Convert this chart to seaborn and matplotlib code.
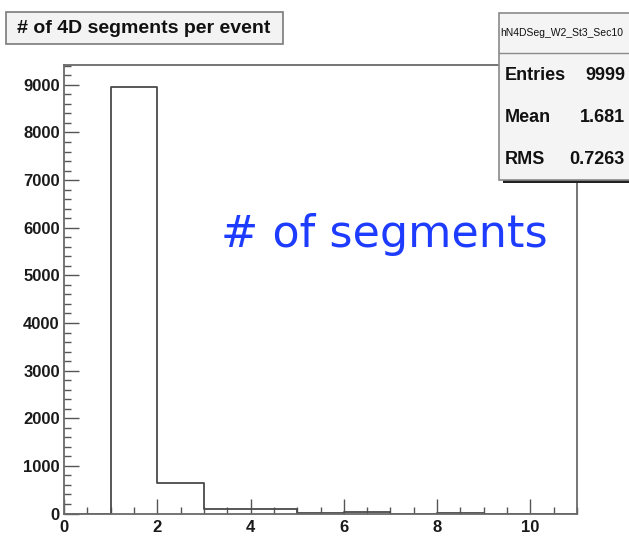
import numpy as np
import pandas as pd
import matplotlib
matplotlib.use("Agg")
import matplotlib.pyplot as plt
import seaborn as sns
from matplotlib.patches import Rectangle
from matplotlib.ticker import MultipleLocator

# ---- data ----
bin_edges = [0, 1, 2, 3, 4, 5, 6, 7, 8, 9, 10, 11]
bin_counts = [0, 8958, 634, 100, 85, 5, 38, 0, 10, 0, 0]
title_text = "# of 4D segments per event"
hist_name = "hN4DSeg_W2_St3_Sec10"
stat_labels = ["Entries", "Mean", "RMS"]
stat_values = ["9999", "1.681", "0.7263"]
annotation = "# of segments"
x_ticks = [0, 2, 4, 6, 8, 10]
y_ticks = [0, 1000, 2000, 3000, 4000, 5000, 6000, 7000, 8000, 9000]

sns.set_theme(style="white")
plt.rcParams['font.family'] = ['Liberation Sans Narrow', 'Liberation Sans', 'DejaVu Sans']

W, H = 629, 549
def fx(px):
    return px / W
def fy(py):
    return 1 - py / H

fig = plt.figure(figsize=(W / 100, H / 100), dpi=100)
fig.patch.set_facecolor("white")
ax = fig.add_axes([fx(64), fy(513.5), (577 - 64) / W, (513.5 - 65.5) / H])
ax.set_facecolor("white")

centers = [(a + b) / 2 for a, b in zip(bin_edges[:-1], bin_edges[1:])]
df = pd.DataFrame({"x": centers, "w": bin_counts})
sns.histplot(data=df, x="x", weights="w", bins=bin_edges, element="step",
             fill=False, color="#4a4a4a", linewidth=1.3, ax=ax)

ax.set_xlim(bin_edges[0], bin_edges[-1])
ax.set_ylim(0, 1.05 * max(bin_counts))
ax.set_xlabel("")
ax.set_ylabel("")
ax.set_xticks(x_ticks)
ax.set_xticklabels([str(t) for t in x_ticks])
ax.set_yticks(y_ticks)
ax.set_yticklabels([str(t) for t in y_ticks])
ax.xaxis.set_minor_locator(MultipleLocator(0.5))
ax.yaxis.set_minor_locator(MultipleLocator(200))

for sp in ax.spines.values():
    sp.set_color("#6a6a6a")
    sp.set_linewidth(1.3)
    sp.set_visible(True)

ax.tick_params(axis="both", which="major", direction="in", length=11, width=1.0,
               color="#555555", bottom=True, left=True, top=False, right=False)
ax.tick_params(axis="both", which="minor", direction="in", length=5, width=1.0,
               color="#555555", bottom=True, left=True, top=False, right=False)
ax.tick_params(axis="y", which="major", pad=3)
ax.tick_params(axis="x", which="major", pad=5)
for lab in ax.get_xticklabels() + ax.get_yticklabels():
    lab.set_fontweight("bold")
    lab.set_fontsize(12)
    lab.set_color("#1a1a1a")

# ---- title box ----
fig.add_artist(Rectangle((fx(6), fy(44)), (283 - 6) / W, (44 - 12) / H,
                         transform=fig.transFigure, facecolor="#f3f3f3",
                         edgecolor="#7a7a7a", linewidth=1.2, zorder=5))
fig.text(fx(17), fy(28.5), title_text, fontsize=14, fontweight="bold",
         color="#111111", ha="left", va="center", zorder=6)

# ---- stats box ----
bx0, by0, bx1, by1 = 499.5, 13, 645, 180
fig.add_artist(Rectangle((fx(bx0 + 3), fy(by1 + 3)), (bx1 - bx0) / W, (by1 - by0) / H,
                         transform=fig.transFigure, facecolor="#222222",
                         edgecolor="none", zorder=4))
fig.add_artist(Rectangle((fx(bx0), fy(by1)), (bx1 - bx0) / W, (by1 - by0) / H,
                         transform=fig.transFigure, facecolor="#f4f4f4",
                         edgecolor="#8a8a8a", linewidth=1.2, zorder=5))
fig.add_artist(plt.Line2D([fx(bx0), fx(bx1)], [fy(53), fy(53)], transform=fig.transFigure,
                          color="#8a8a8a", linewidth=1.0, zorder=6))
fig.text(fx(562), fy(33), hist_name, fontsize=7.5, color="#111111",
         ha="center", va="center", zorder=6)
row_y = [76, 117, 159]
for lab, val, yy in zip(stat_labels, stat_values, row_y):
    fig.text(fx(505), fy(yy), lab, fontsize=13, fontweight="bold", color="#111111",
             ha="left", va="center", zorder=6)
    fig.text(fx(625), fy(yy), val, fontsize=13, fontweight="bold", color="#111111",
             ha="right", va="center", zorder=6)

# ---- annotation ----
fig.text(fx(384), fy(235), annotation, fontsize=32, color="#1e3cff",
         family=["DejaVu Sans"], ha="center", va="center", zorder=6)

fig.savefig("out.png", dpi=100)
